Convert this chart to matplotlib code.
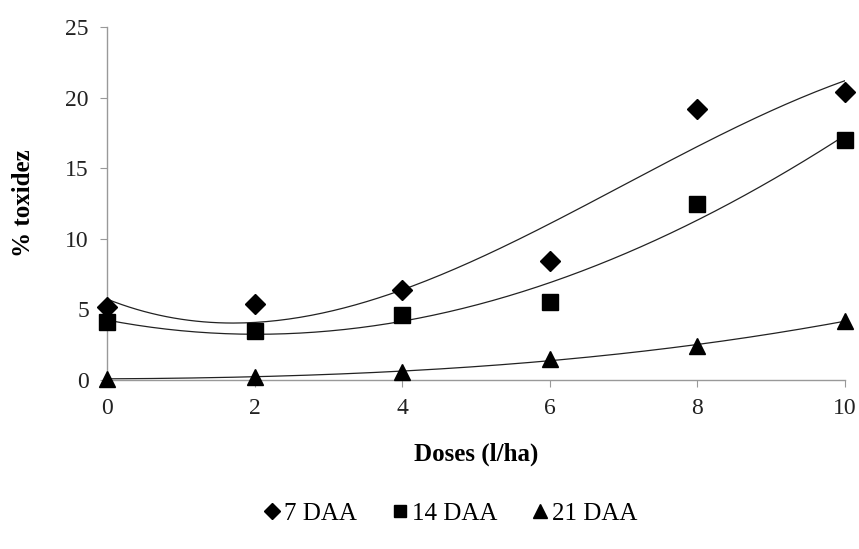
import numpy as np
import matplotlib
matplotlib.use("Agg")
import matplotlib.pyplot as plt

plt.rcParams['font.family'] = ['Liberation Serif', 'DejaVu Serif']

# doses and toxicity readings (days after application)
doses = [0, 2, 4, 6, 8, 10]
daa7 = [5.2, 5.4, 6.4, 8.4, 19.2, 20.4]
daa14 = [4.1, 3.5, 4.6, 5.5, 12.5, 17.0]
daa21 = [0.1, 0.2, 0.6, 1.5, 2.4, 4.2]

labels = ['7 DAA', '14 DAA', '21 DAA']
markers = ['D', 's', '^']
msizes = [10, 11, 12]

fig = plt.figure(figsize=(8.59, 5.49), dpi=100)
ax = fig.add_axes([0.1246, 0.3078, 0.8591, 0.643])

xs = np.linspace(0, 10, 200)
handles = []
for y, lab, m, ms in zip([daa7, daa14, daa21], labels, markers, msizes):
    # polynomial trend line (order 3)
    coef = np.polyfit(doses, y, 3)
    ax.plot(xs, np.polyval(coef, xs), color='#222222', lw=0.9, zorder=2)
    h, = ax.plot(doses, y, linestyle='none', marker=m, markersize=ms,
                 color='black', label=lab, zorder=3, clip_on=False)
    handles.append(h)

ax.set_xlim(0, 10)
ax.set_ylim(0, 25)
ax.set_xticks(doses)
ax.set_yticks([0, 5, 10, 15, 20, 25])
for s in ['top', 'right']:
    ax.spines[s].set_visible(False)
for s in ['left', 'bottom']:
    ax.spines[s].set_color('#999999')
    ax.spines[s].set_linewidth(1)
ax.tick_params(colors='#999999', labelcolor='#222222', labelsize=17,
               length=5, direction='out')
ax.tick_params(axis='x', pad=8)
ax.tick_params(axis='y', pad=8)

ax.set_xlabel('Doses (l/ha)', fontsize=18, fontweight='bold', labelpad=17)
ax.set_ylabel('% toxidez', fontsize=18, fontweight='bold', labelpad=22)

fig.legend(handles=handles, loc='center', bbox_to_anchor=(0.525, 0.065),
           ncol=3, frameon=False, fontsize=18, handlelength=0.6,
           handletextpad=0.2, columnspacing=1.4, markerscale=0.85)

fig.savefig('out.png', dpi=100)
